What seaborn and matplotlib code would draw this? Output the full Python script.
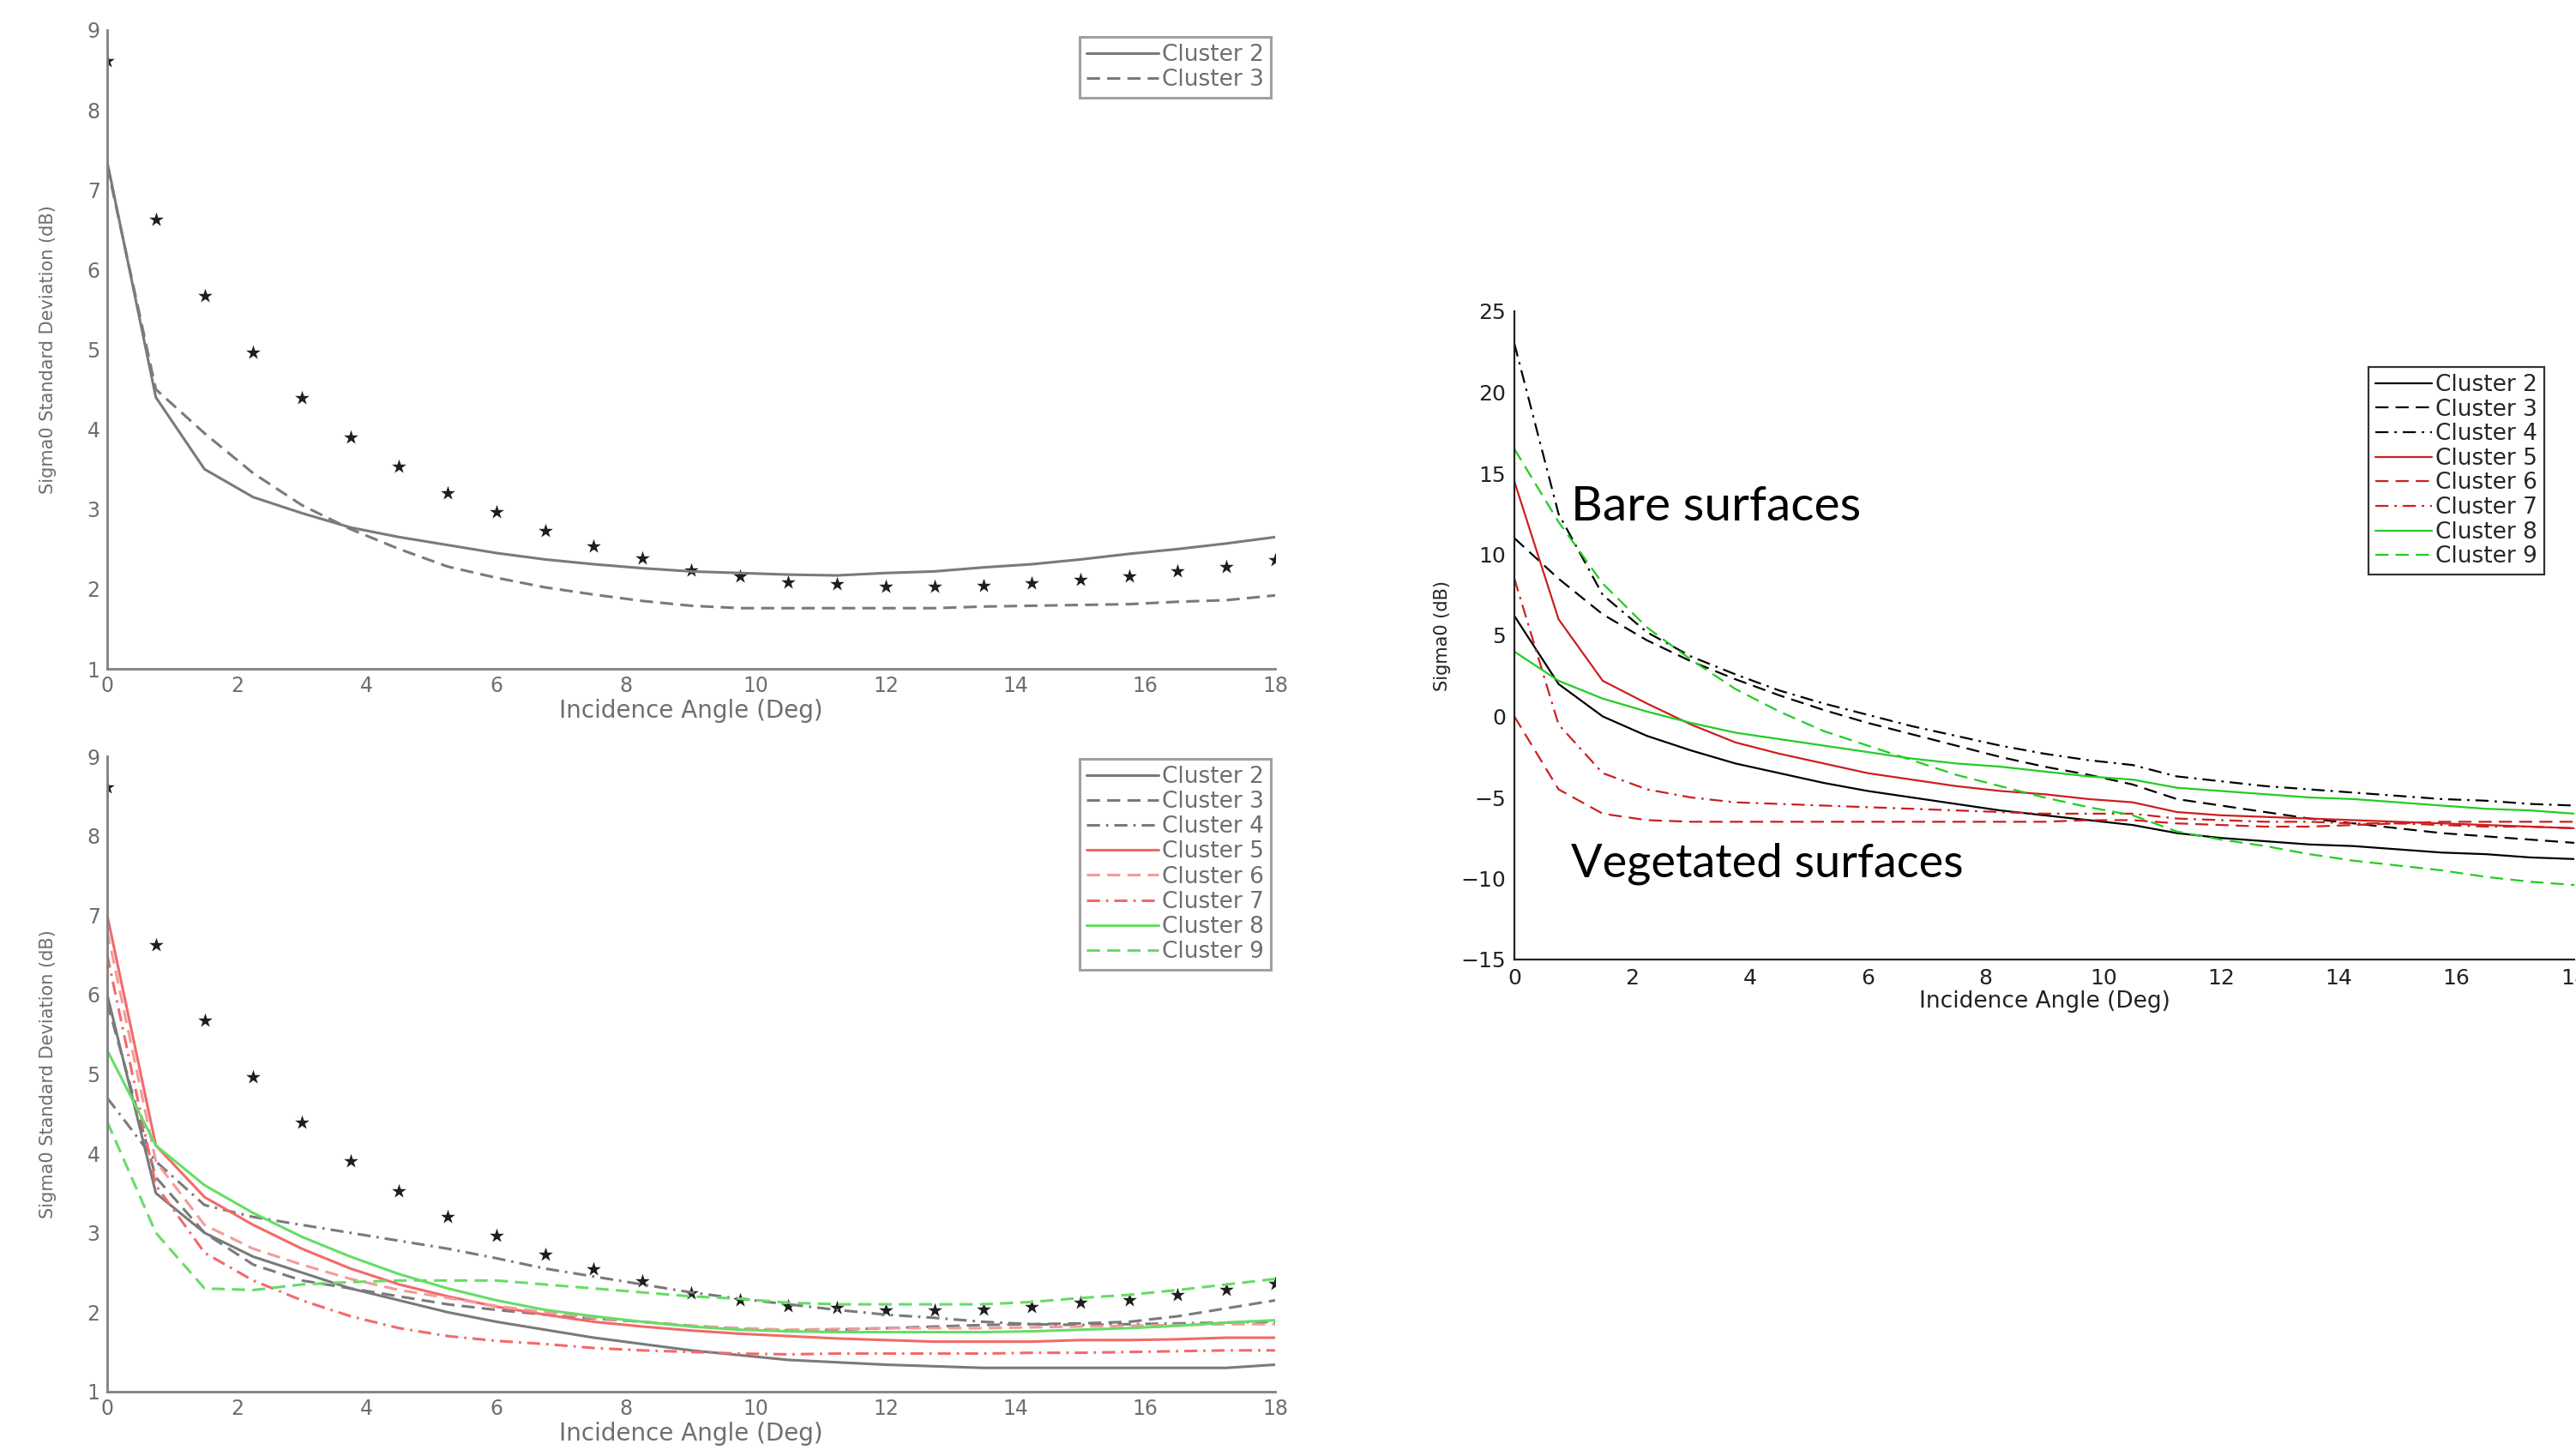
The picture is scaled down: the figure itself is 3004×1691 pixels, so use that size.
import matplotlib
matplotlib.use("Agg")
import matplotlib.pyplot as plt
import seaborn as sns

sns.set_style("white")
plt.rcParams["font.family"] = ["DejaVu Sans"]
plt.rcParams["lines.scale_dashes"] = False

# incidence angles (deg)
angles = [0, 0.75, 1.5, 2.25, 3, 3.75, 4.5, 5.25, 6, 6.75, 7.5, 8.25, 9,
          9.75, 10.5, 11.25, 12, 12.75, 13.5, 14.25, 15, 15.75, 16.5, 17.25, 18]

# black star points (same in both left panels)
ref_std = [8.61, 6.63, 5.67, 4.96, 4.39, 3.90, 3.53, 3.20, 2.96, 2.73, 2.54, 2.39, 2.24,
           2.16, 2.08, 2.06, 2.03, 2.03, 2.04, 2.07, 2.12, 2.16, 2.22, 2.28, 2.36]

# top-left panel: std of sigma0
top_c2 = [7.35, 4.40, 3.50, 3.15, 2.95, 2.77, 2.65, 2.55, 2.45, 2.37, 2.31, 2.26, 2.22,
          2.20, 2.18, 2.17, 2.20, 2.22, 2.27, 2.31, 2.37, 2.44, 2.50, 2.57, 2.65]
top_c3 = [7.30, 4.50, 3.95, 3.45, 3.05, 2.75, 2.50, 2.28, 2.14, 2.02, 1.93, 1.85, 1.79,
          1.76, 1.76, 1.76, 1.76, 1.76, 1.78, 1.79, 1.80, 1.81, 1.84, 1.86, 1.92]

# bottom-left panel: std of sigma0, clusters 2-9
bot_c2 = [6.00, 3.50, 3.00, 2.70, 2.50, 2.30, 2.15, 2.00, 1.88, 1.78, 1.68, 1.60, 1.52,
          1.46, 1.40, 1.37, 1.34, 1.32, 1.30, 1.30, 1.30, 1.30, 1.30, 1.30, 1.34]
bot_c3 = [5.90, 3.70, 3.00, 2.60, 2.40, 2.30, 2.20, 2.10, 2.03, 1.97, 1.92, 1.88, 1.83,
          1.79, 1.77, 1.78, 1.80, 1.82, 1.84, 1.85, 1.86, 1.88, 1.95, 2.05, 2.15]
bot_c4 = [4.70, 3.90, 3.35, 3.20, 3.10, 3.00, 2.90, 2.80, 2.68, 2.55, 2.45, 2.35, 2.25,
          2.17, 2.10, 2.03, 1.97, 1.93, 1.88, 1.85, 1.84, 1.85, 1.86, 1.87, 1.88]
bot_c5 = [7.00, 4.10, 3.45, 3.10, 2.80, 2.55, 2.35, 2.20, 2.07, 1.97, 1.88, 1.82, 1.77,
          1.73, 1.70, 1.67, 1.65, 1.63, 1.63, 1.63, 1.65, 1.65, 1.66, 1.68, 1.68]
bot_c6 = [6.80, 3.90, 3.10, 2.80, 2.60, 2.42, 2.28, 2.18, 2.08, 2.00, 1.93, 1.88, 1.83,
          1.80, 1.78, 1.79, 1.80, 1.80, 1.80, 1.81, 1.82, 1.83, 1.84, 1.85, 1.85]
bot_c7 = [6.50, 3.60, 2.75, 2.40, 2.15, 1.95, 1.80, 1.70, 1.64, 1.60, 1.55, 1.52, 1.50,
          1.48, 1.47, 1.48, 1.48, 1.48, 1.48, 1.49, 1.49, 1.50, 1.51, 1.52, 1.52]
bot_c8 = [5.30, 4.10, 3.60, 3.25, 2.95, 2.70, 2.48, 2.30, 2.15, 2.03, 1.95, 1.88, 1.82,
          1.78, 1.76, 1.75, 1.75, 1.75, 1.75, 1.76, 1.78, 1.80, 1.83, 1.87, 1.90]
bot_c9 = [4.40, 3.00, 2.30, 2.28, 2.35, 2.38, 2.40, 2.40, 2.40, 2.35, 2.30, 2.25, 2.20,
          2.17, 2.12, 2.10, 2.10, 2.10, 2.10, 2.13, 2.18, 2.22, 2.28, 2.35, 2.42]

# right panel: mean sigma0 (dB)
sig_c2 = [6.2, 2.0, 0.0, -1.2, -2.1, -2.9, -3.5, -4.1, -4.6, -5.0, -5.4, -5.8, -6.1,
          -6.4, -6.7, -7.2, -7.5, -7.7, -7.9, -8.0, -8.2, -8.4, -8.5, -8.7, -8.8]
sig_c3 = [11.0, 8.5, 6.3, 4.7, 3.4, 2.3, 1.3, 0.4, -0.4, -1.1, -1.8, -2.5, -3.1,
          -3.6, -4.2, -5.1, -5.5, -5.9, -6.3, -6.6, -6.9, -7.2, -7.4, -7.6, -7.8]
sig_c4 = [23.0, 12.5, 7.5, 5.2, 3.7, 2.6, 1.6, 0.8, 0.1, -0.6, -1.2, -1.8, -2.3,
          -2.7, -3.0, -3.7, -4.0, -4.3, -4.5, -4.7, -4.9, -5.1, -5.2, -5.4, -5.5]
sig_c5 = [14.5, 6.0, 2.2, 0.8, -0.5, -1.6, -2.3, -2.9, -3.5, -3.9, -4.3, -4.6, -4.8,
          -5.1, -5.3, -5.9, -6.1, -6.2, -6.3, -6.4, -6.5, -6.6, -6.7, -6.8, -6.9]
sig_c6 = [0.0, -4.5, -6.0, -6.4, -6.5, -6.5, -6.5, -6.5, -6.5, -6.5, -6.5, -6.5, -6.5,
          -6.4, -6.4, -6.6, -6.7, -6.8, -6.8, -6.7, -6.6, -6.5, -6.5, -6.5, -6.5]
sig_c7 = [8.5, -0.5, -3.5, -4.5, -5.0, -5.3, -5.4, -5.5, -5.6, -5.7, -5.8, -5.9, -6.0,
          -6.0, -6.0, -6.3, -6.4, -6.5, -6.5, -6.6, -6.6, -6.7, -6.8, -6.8, -6.9]
sig_c8 = [4.0, 2.2, 1.1, 0.3, -0.4, -1.0, -1.4, -1.8, -2.2, -2.6, -2.9, -3.1, -3.4,
          -3.7, -3.9, -4.4, -4.6, -4.8, -5.0, -5.1, -5.3, -5.5, -5.7, -5.8, -6.0]
sig_c9 = [16.5, 12.0, 8.2, 5.5, 3.5, 1.7, 0.3, -0.9, -1.8, -2.7, -3.6, -4.3, -5.0,
          -5.6, -6.1, -7.1, -7.6, -8.0, -8.5, -8.9, -9.2, -9.5, -9.9, -10.2, -10.4]

labels = ["Cluster 2", "Cluster 3", "Cluster 4", "Cluster 5",
          "Cluster 6", "Cluster 7", "Cluster 8", "Cluster 9"]

SOLID = "-"
DASH = (0, (11, 6))
DASHDOT = (0, (11, 5, 2, 5))
styles = [SOLID, DASH, DASHDOT] * 3

W, H = 3004, 1691
fig = plt.figure(figsize=(W / 100, H / 100), dpi=100)
ax1 = fig.add_axes([125 / W, 1 - 780 / H, 1362 / W, 745 / H])
ax2 = fig.add_axes([125 / W, 1 - 1623 / H, 1362 / W, 741 / H])
ax3 = fig.add_axes([1766 / W, 1 - 1119 / H, 1236 / W, 756 / H])

# faded look of the left panels
gtxt = "#6e6e6e"
left_cols = ["#7a7a7a", "#7a7a7a", "#7a7a7a", "#f26a6a", "#f59a9a", "#f26a6a", "#66dd66", "#66dd66"]

# ---- top-left
sns.lineplot(x=angles, y=top_c2, ax=ax1, color=left_cols[0], linestyle=SOLID, lw=2.2, label=labels[0])
sns.lineplot(x=angles, y=top_c3, ax=ax1, color=left_cols[1], linestyle=DASH, lw=2.2, label=labels[1])
sns.scatterplot(x=angles, y=ref_std, ax=ax1, marker="*", s=160, color="#1e1e1e", linewidth=0)

# ---- bottom-left
bot_series = [bot_c2, bot_c3, bot_c4, bot_c5, bot_c6, bot_c7, bot_c8, bot_c9]
for vals, lab, col, ls in zip(bot_series, labels, left_cols, styles):
    sns.lineplot(x=angles, y=vals, ax=ax2, color=col, linestyle=ls, lw=2.2, label=lab)
sns.scatterplot(x=angles, y=ref_std, ax=ax2, marker="*", s=160, color="#1e1e1e", linewidth=0)

for ax in (ax1, ax2):
    ax.set_xlim(0, 18)
    ax.set_ylim(1, 9)
    ax.set_xticks(range(0, 19, 2))
    ax.set_yticks(range(1, 10))
    ax.tick_params(direction="in", length=9, width=1.5, colors="#808080",
                   labelcolor=gtxt, labelsize=17, pad=6)
    for s in ("top", "right"):
        ax.spines[s].set_visible(False)
    for s in ("left", "bottom"):
        ax.spines[s].set_color("#808080")
        ax.spines[s].set_linewidth(2)
    ax.set_xlabel("Incidence Angle (Deg)", fontsize=20, color=gtxt)
    ax.set_ylabel("Sigma0 Standard Deviation (dB)", fontsize=15, color=gtxt)
    ax.yaxis.set_label_coords(-0.043, 0.5)
    ax.xaxis.set_label_coords(0.5, -0.047)
    leg = ax.legend(loc="upper right", bbox_to_anchor=(1482 / W, 1 - (43 if ax is ax1 else 885) / H),
                    bbox_transform=fig.transFigure, fontsize=19, frameon=True, fancybox=False,
                    labelspacing=0.12, handlelength=3.2, handletextpad=0.15, borderpad=0.3,
                    borderaxespad=0)
    leg.get_frame().set_edgecolor("#8a8a8a")
    leg.get_frame().set_linewidth(2.2)
    for t in leg.get_texts():
        t.set_color(gtxt)

# ---- right panel
right_cols = ["black", "black", "black", "#cc1f1f", "#cc1f1f", "#cc1f1f", "#22cc22", "#22cc22"]
sig_series = [sig_c2, sig_c3, sig_c4, sig_c5, sig_c6, sig_c7, sig_c8, sig_c9]
for vals, lab, col, ls in zip(sig_series, labels, right_cols, styles):
    sns.lineplot(x=angles, y=vals, ax=ax3, color=col, linestyle=ls, lw=1.6, label=lab)

ax3.set_xlim(0, 18)
ax3.set_ylim(-15, 25)
ax3.set_xticks(range(0, 19, 2))
ax3.set_yticks(range(-15, 26, 5))
ax3.tick_params(direction="in", length=9, width=1.5, colors="#222222",
                labelcolor="#222222", labelsize=18, pad=7)
for s in ("top", "right"):
    ax3.spines[s].set_visible(False)
for s in ("left", "bottom"):
    ax3.spines[s].set_color("#222222")
    ax3.spines[s].set_linewidth(1.6)
ax3.set_xlabel("Incidence Angle (Deg)", fontsize=19, color="#222222")
ax3.set_ylabel("Sigma0 (dB)", fontsize=15, color="#222222")
ax3.yaxis.set_label_coords(-0.06, 0.5)
ax3.xaxis.set_label_coords(0.5, -0.047)
leg = ax3.legend(loc="upper right", bbox_to_anchor=(2967 / W, 1 - 428 / H),
                 bbox_transform=fig.transFigure, fontsize=19, frameon=True, fancybox=False,
                 labelspacing=0.1, handlelength=2.5, handletextpad=0.15, borderpad=0.3,
                 borderaxespad=0)
leg.get_frame().set_edgecolor("black")
leg.get_frame().set_linewidth(1.6)

ax3.text(0.96, 12.1, "Bare surfaces", fontsize=41, family=["Lato", "DejaVu Sans"],
         va="baseline", ha="left", color="black")
ax3.text(0.96, -9.9, "Vegetated surfaces", fontsize=39, family=["Lato", "DejaVu Sans"],
         va="baseline", ha="left", color="black")

fig.savefig("out.png", dpi=100, facecolor="white")
